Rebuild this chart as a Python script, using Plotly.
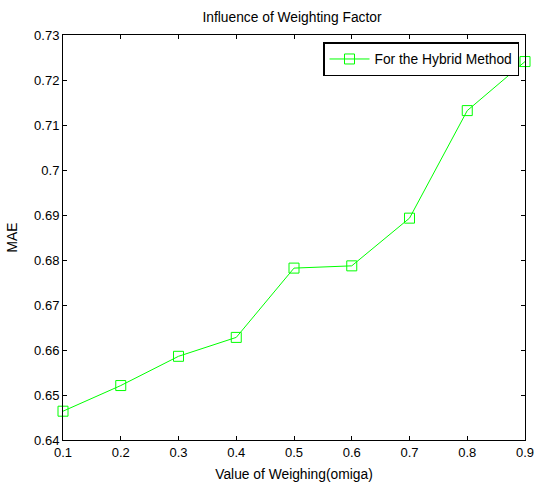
import plotly.graph_objects as go

omega = [0.1, 0.2, 0.3, 0.4, 0.5, 0.6, 0.7, 0.8, 0.9]
mae = [0.6464, 0.6521, 0.6586, 0.6628, 0.6782, 0.6787, 0.6893, 0.7132, 0.7241]
x_ticks = [0.1, 0.2, 0.3, 0.4, 0.5, 0.6, 0.7, 0.8, 0.9]
x_ticklabels = ["0.1", "0.2", "0.3", "0.4", "0.5", "0.6", "0.7", "0.8", "0.9"]
y_ticks = [0.64, 0.65, 0.66, 0.67, 0.68, 0.69, 0.70, 0.71, 0.72, 0.73]
y_ticklabels = ["0.64", "0.65", "0.66", "0.67", "0.68", "0.69", "0.7", "0.71", "0.72", "0.73"]

FONT = "Liberation Sans, Arial, sans-serif"
GREEN = "#00ff00"
LABEL_SIZE = 13.8
TICK_SIZE = 13

fig = go.Figure()
fig.add_trace(go.Scatter(
    x=omega, y=mae, mode="lines+markers", name="For the Hybrid Method",
    line=dict(color=GREEN, width=1),
    marker=dict(symbol="square-open", size=10, color=GREEN, line=dict(width=1, color=GREEN)),
    cliponaxis=False,
))

axis_common = dict(
    showline=True, linecolor="black", linewidth=1, mirror="ticks",
    ticks="inside", ticklen=4, tickcolor="black", tickwidth=1,
    showgrid=False, zeroline=False, automargin=False,
    ticklabeloverflow="allow",
    tickfont=dict(family=FONT, size=TICK_SIZE, color="black"),
)

fig.update_layout(
    width=534, height=486,
    margin=dict(l=63, r=9, t=35, b=46),
    paper_bgcolor="white", plot_bgcolor="white",
    font=dict(family=FONT, size=LABEL_SIZE, color="black"),
    title=dict(text="Influence of Weighting Factor", x=292 / 534, xanchor="center",
               y=1 - 17 / 486, yanchor="middle",
               font=dict(family=FONT, size=LABEL_SIZE, color="black")),
    xaxis=dict(range=[0.1, 0.9], tickvals=x_ticks, ticktext=x_ticklabels,
               title=dict(text="Value of Weighing(omiga)", standoff=10,
                          font=dict(family=FONT, size=LABEL_SIZE, color="black")),
               **axis_common),
    yaxis=dict(range=[0.64, 0.73], tickvals=y_ticks, ticktext=y_ticklabels,
               title=dict(text="MAE", standoff=13,
                          font=dict(family=FONT, size=LABEL_SIZE, color="black")),
               **axis_common),
    legend=dict(x=(519 - 63) / 462, xanchor="right", y=(440 - 42) / 405, yanchor="top",
                bordercolor="black", borderwidth=1.5, bgcolor="white",
                font=dict(family=FONT, size=LABEL_SIZE, color="black"),
                itemwidth=40),
    showlegend=True,
)

fig.write_html("out.html", config={"displayModeBar": False},
               post_script="document.body.style.margin='0';")
